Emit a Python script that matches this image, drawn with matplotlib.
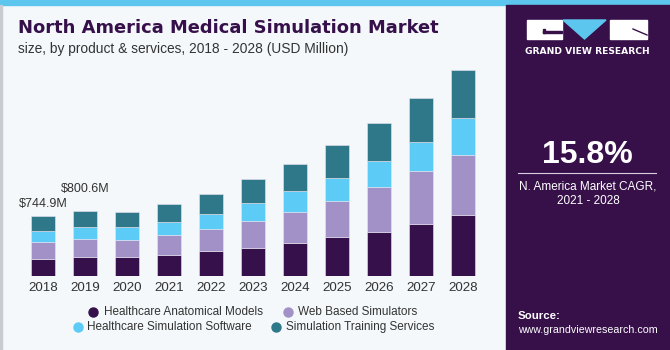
import matplotlib
matplotlib.use("Agg")
import matplotlib.pyplot as plt
import numpy as np
from matplotlib.patches import Rectangle, Polygon
from matplotlib.colors import LinearSegmentedColormap

years = ["2018", "2019", "2020", "2021", "2022", "2023", "2024", "2025", "2026", "2027", "2028"]
anatomical = [214, 235, 232, 260, 310, 351, 413, 487, 546, 649, 753]
web_based = [205, 219, 214, 248, 276, 331, 384, 443, 554, 653, 751]
sim_software = [138, 152, 157, 165, 179, 223, 260, 289, 322, 363, 459]
training = [188, 194, 192, 216, 255, 298, 327, 402, 475, 538, 595]
series_names = ["Healthcare Anatomical Models", "Web Based Simulators",
                "Healthcare Simulation Software", "Simulation Training Services"]
colors = ["#36104A", "#A291C6", "#5CCBF5", "#2F7889"]
labels_text = {0: "$744.9M", 1: "$800.6M"}

W, H = 670, 350
fig = plt.figure(figsize=(W / 100, H / 100), dpi=100)
bg = "#F4F8FB"
fig.patch.set_facecolor(bg)

def fx(x): return x / W
def fy(y): return 1 - y / H

# background decorations
fig.add_artist(Rectangle((0, 1 - 5 / H), 1, 5 / H, transform=fig.transFigure, color="#5CC6EE", zorder=0))
fig.add_artist(Rectangle((0, 0), 2 / W, 1 - 5 / H, transform=fig.transFigure, color="#C8CCD0", zorder=0))

# right panel
px0 = 506 / W
panel_col = "#37104A"
fig.add_artist(Rectangle((px0, 0), 1 - px0, 1 - 5 / H, transform=fig.transFigure, color=panel_col, zorder=1))
grad_ax = fig.add_axes([px0, 0, 1 - px0, 95 / H])
grad = np.linspace(0, 1, 100).reshape(-1, 1)
cmap = LinearSegmentedColormap.from_list("g", ["#3B8FC0", "#3A3A78", panel_col])
grad_ax.imshow(grad, aspect="auto", cmap=cmap, origin="lower", extent=[0, 1, 0, 1])
for k in np.linspace(-1, 2, 22):
    grad_ax.plot([0.5 + (k - 0.5) * 0.3, k], [0.75, 0], color="#8FB6DA", lw=0.3, alpha=0.5)
for yy in [0.05, 0.12, 0.2, 0.3, 0.42, 0.56, 0.7]:
    grad_ax.plot([0, 1], [yy, yy], color="#8FB6DA", lw=0.3, alpha=0.4)
grad_ax.set_xlim(0, 1); grad_ax.set_ylim(0, 1)
grad_ax.axis("off")

# logo
fig.add_artist(Rectangle((fx(527), fy(39)), fx(35), 19 / H, transform=fig.transFigure, color="white", zorder=3))
fig.add_artist(Rectangle((fx(610), fy(39)), fx(37), 19 / H, transform=fig.transFigure, color="white", zorder=3))
fig.add_artist(Polygon([(fx(563), fy(20)), (fx(606), fy(20)), (fx(584.5), fy(39))], closed=True,
                       transform=fig.transFigure, color="#5CC6EE", zorder=3))
fig.add_artist(Rectangle((fx(543), fy(33)), fx(19), 1.5 / H, transform=fig.transFigure, color=panel_col, zorder=4))
fig.add_artist(Rectangle((fx(543), fy(33)), fx(1.5), 4 / H, transform=fig.transFigure, color=panel_col, zorder=4))
fig.add_artist(plt.Line2D([fx(633), fx(647)], [fy(29), fy(35)], transform=fig.transFigure,
                          color=panel_col, lw=1.0, zorder=4))
fig.text(fx(587), fy(51), "GRAND VIEW RESEARCH", color="white", fontsize=6.6, fontweight="bold",
         ha="center", va="center", family="DejaVu Sans", zorder=5)

fig.text(fx(587.5), fy(155), "15.8%", color="white", fontsize=23, fontweight="bold",
         ha="center", va="center", family="Liberation Sans", zorder=5)
fig.add_artist(plt.Line2D([fx(518), fx(656)], [fy(173), fy(173)], transform=fig.transFigure,
                          color="#D8D0E0", lw=0.8, zorder=5))
fig.text(fx(588), fy(186), "N. America Market CAGR,", color="white", fontsize=8.5,
         ha="center", va="center", family="Liberation Sans", zorder=5)
fig.text(fx(588), fy(201), "2021 - 2028", color="white", fontsize=8.5,
         ha="center", va="center", family="Liberation Sans", zorder=5)
fig.text(fx(518), fy(316), "Source:", color="white", fontsize=8.2, fontweight="bold",
         ha="left", va="center", family="Liberation Sans", zorder=5)
fig.text(fx(518), fy(330), "www.grandviewresearch.com", color="white", fontsize=7.7,
         ha="left", va="center", family="Liberation Sans", zorder=5)

# title
fig.text(fx(18), fy(28), "North America Medical Simulation Market", color="#36104A", fontsize=12.85,
         fontweight="bold", ha="left", va="center", family="DejaVu Sans")
fig.text(fx(18), fy(49), "size, by product & services, 2018 - 2028 (USD Million)", color="#333333",
         fontsize=9.9, ha="left", va="center", family="Liberation Sans")

# bar axes
ax = fig.add_axes([22 / W, 74 / H, 462 / W, 216 / H])
ax.set_facecolor("none")
x = np.arange(len(years))
bottom = np.zeros(len(years))
for vals, c in zip([anatomical, web_based, sim_software, training], colors):
    ax.bar(x, vals, width=0.57, bottom=bottom, color=c, edgecolor="#E8E4EE", linewidth=0.4, zorder=2)
    bottom += np.array(vals)
ax.set_xlim(-0.5, len(years) - 0.5)
ax.set_ylim(0, 216 * 12.4)
for i, t in labels_text.items():
    off = 12 if i == 0 else 22
    ax.annotate(t, (x[i], bottom[i]), xytext=(0, off), textcoords="offset pixels",
                ha="center", va="center", fontsize=9, color="#333333", family="Liberation Sans")
ax.set_xticks(x)
ax.set_xticklabels(years, fontsize=9.6, color="#333333", family="Liberation Sans")
ax.tick_params(axis="x", length=0, pad=4)
ax.set_yticks([])
for s in ax.spines.values():
    s.set_visible(False)

# legend (manual)
legend_pos = [(93, 312, 104), (288, 312, 298), (78, 327, 87), (276, 327, 286)]
for (mx, my, tx), name, c in zip(legend_pos, series_names, colors):
    fig.add_artist(plt.Line2D([fx(mx)], [fy(my)], marker="o", markersize=6.5, color=c,
                              transform=fig.transFigure, linestyle="none"))
    fig.text(fx(tx), fy(my), name, fontsize=8.5, color="#333333", ha="left", va="center",
             family="Liberation Sans")

fig.savefig("out.png", dpi=100, facecolor=bg)
